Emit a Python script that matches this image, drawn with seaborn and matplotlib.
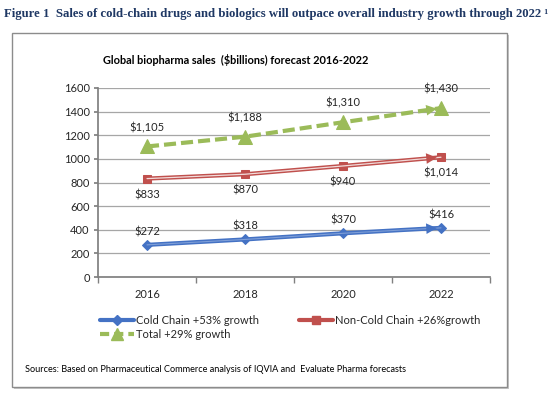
import numpy as np
import pandas as pd
import matplotlib
matplotlib.use("Agg")
import matplotlib.pyplot as plt
import seaborn as sns
from matplotlib.patches import Rectangle
from matplotlib.lines import Line2D

# データ
years = ["2016", "2018", "2020", "2022"]
cold_chain = [272, 318, 370, 416]
non_cold_chain = [833, 870, 940, 1014]
total = [1105, 1188, 1310, 1430]
cold_labels = ["$272", "$318", "$370", "$416"]
non_cold_labels = ["$833", "$870", "$940", "$1,014"]
total_labels = ["$1,105", "$1,188", "$1,310", "$1,430"]

sns.set_theme(style="white")
plt.rcParams['font.family'] = ['Lato', 'DejaVu Sans']

fig = plt.figure(figsize=(5.5, 3.98), dpi=100)

# 外枠
fig.patches.append(Rectangle((14/550, 1-389/398), 495/550, 354/398, transform=fig.transFigure,
                             facecolor="#c8c8c8", edgecolor="none", zorder=-2))
fig.patches.append(Rectangle((12/550, 1-387/398), 495/550, 354/398, transform=fig.transFigure,
                             facecolor="white", edgecolor="#8c8c8c", lw=1.0, zorder=-1))

fig.text(0.008, 1-14/398, "Figure 1  Sales of cold-chain drugs and biologics will outpace overall industry growth through 2022 \u00b9",
         fontsize=9.2, fontweight="bold", color="#1f3864", family=["Liberation Serif"], va="center")
fig.text(103/550, 1-60/398, "Global biopharma sales  ($billions) forecast 2016-2022",
         fontsize=7.9, fontweight="bold", color="black", va="center")
fig.text(25/550, 1-369/398, "Sources: Based on Pharmaceutical Commerce analysis of IQVIA and  Evaluate Pharma forecasts",
         fontsize=6.6, color="black", va="center")

ax = fig.add_axes([98/550, 1-277/398, 392/550, 189/398])
ax.patch.set_alpha(0)

df = pd.DataFrame({"year": years, "cold": cold_chain, "non": non_cold_chain, "total": total})
xs = np.arange(len(years))

BLUE, RED, GREEN = "#4472c4", "#c0504d", "#9bbb59"

# Cold Chain
sns.lineplot(x=xs, y=df["cold"], ax=ax, color=BLUE, lw=3, marker="D", markersize=5,
             markeredgecolor=BLUE, zorder=3)
ax.plot(xs, df["cold"], color="#7f9fd8", lw=0.8, zorder=4)
# Non-Cold Chain
sns.lineplot(x=xs, y=df["non"], ax=ax, color=RED, lw=3, marker="s", markersize=5.5,
             markeredgecolor=RED, zorder=3)
ax.plot(xs, df["non"], color="#f2dcdb", lw=0.9, zorder=4)
# Total
sns.lineplot(x=xs, y=df["total"], ax=ax, color=GREEN, lw=3, marker="^", markersize=10,
             markeredgecolor=GREEN, linestyle=(0, (2.9, 1.2)), zorder=3)

# 終点の矢印
for vals, col in [(cold_chain, BLUE), (non_cold_chain, RED), (total, GREEN)]:
    ax.annotate("", xy=(xs[3], vals[3]), xytext=(xs[2], vals[2]),
                arrowprops=dict(arrowstyle="-|>", color=col, lw=0.01, mutation_scale=19,
                                shrinkA=80, shrinkB=3), zorder=5)

for i in range(len(years)):
    ax.text(xs[i], cold_chain[i] + 110, cold_labels[i], ha="center", va="center", fontsize=8)
    ax.text(xs[i], total[i] + 160, total_labels[i], ha="center", va="center", fontsize=8)
    ax.text(xs[i], non_cold_chain[i] - 135, non_cold_labels[i], ha="center", va="center", fontsize=8)

ax.set_xlim(-0.5, 3.5)
ax.set_ylim(0, 1600)
ax.set_yticks(range(0, 1601, 200))
ax.set_xticks(xs)
ax.set_xticklabels(years)
ax.set_xticks(np.arange(-0.5, 3.6, 1), minor=True)
ax.grid(axis="y", color="#a6a6a6", lw=0.9)
ax.set_axisbelow(True)
for s in ["top", "right"]:
    ax.spines[s].set_visible(False)
ax.spines["left"].set_color("#808080")
ax.spines["bottom"].set_color("#808080")
ax.tick_params(axis="y", labelsize=8, length=3, color="#808080", left=True, pad=3)
ax.tick_params(axis="x", which="major", labelsize=8, length=0, pad=9)
ax.tick_params(axis="x", which="minor", length=4, color="#808080", bottom=True)
ax.set_xlabel("")
ax.set_ylabel("")
if ax.get_legend():
    ax.get_legend().remove()

handles = [
    Line2D([], [], color=BLUE, lw=3, marker="D", markersize=5),
    Line2D([], [], color=GREEN, lw=3, marker="^", markersize=8, linestyle=(0, (2.2, 1.2))),
    Line2D([], [], color=RED, lw=3, marker="s", markersize=5.5),
]
labels = ["Cold Chain +53% growth", "Total +29% growth", "Non-Cold Chain +26%growth"]
fig.legend(handles, labels, loc="upper left", bbox_to_anchor=(92/550, 1-307/398), ncol=2,
           frameon=False, fontsize=8, handlelength=3.1, handletextpad=0.15,
           columnspacing=3.6, labelspacing=0.3, borderpad=0.2)

fig.savefig("out.png", dpi=100)
